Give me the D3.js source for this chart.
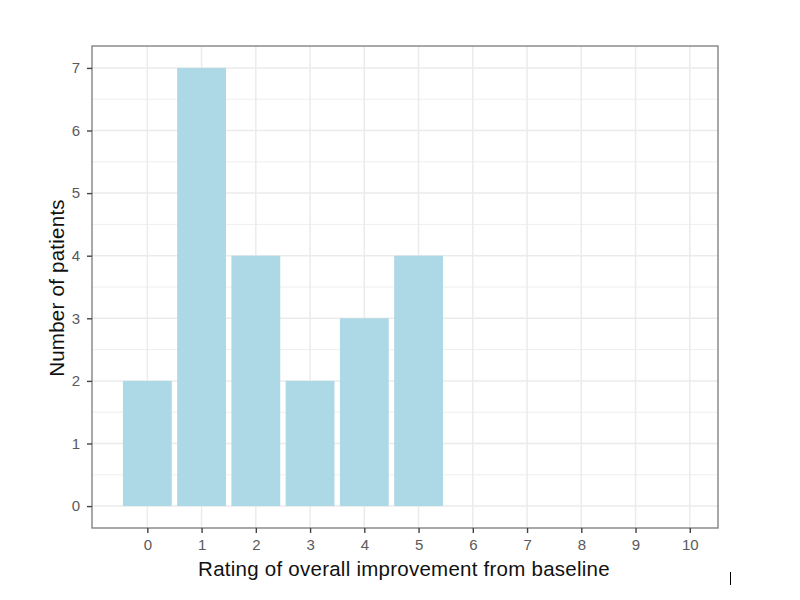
<!DOCTYPE html>
<html>
<head>
<meta charset="utf-8">
<script src="https://cdn.jsdelivr.net/npm/d3@7"></script>
<style>
  body { margin: 0; background: #fff; }
  text { font-family: "Liberation Sans", Arial, sans-serif; }
</style>
</head>
<body>
<svg id="chart" width="800" height="600"></svg>
<script>
// ratings on x, patient counts on y
const ratings = [0, 1, 2, 3, 4, 5];
const patients = [2, 7, 4, 2, 3, 4];
const xTicks = [0, 1, 2, 3, 4, 5, 6, 7, 8, 9, 10];
const yTicks = [0, 1, 2, 3, 4, 5, 6, 7];

const svg = d3.select("#chart");
const panel = {left: 92, top: 46, right: 718, bottom: 528};

const x = d3.scaleLinear().domain([-1.02, 10.52]).range([panel.left, panel.right]);
const y = d3.scaleLinear().domain([-0.35, 7.35]).range([panel.bottom, panel.top]);

/* grid: minor first, then major */
const yMinor = d3.range(-0.5, 7.6, 1);
svg.append("g").selectAll("line").data(yMinor.filter(d => y(d) > panel.top && y(d) < panel.bottom))
  .join("line")
    .attr("x1", panel.left).attr("x2", panel.right)
    .attr("y1", d => y(d)).attr("y2", d => y(d))
    .attr("stroke", "#ececec").attr("stroke-width", 0.9);
svg.append("g").selectAll("line").data(yTicks)
  .join("line")
    .attr("x1", panel.left).attr("x2", panel.right)
    .attr("y1", d => y(d)).attr("y2", d => y(d))
    .attr("stroke", "#ebebeb").attr("stroke-width", 1.5);
svg.append("g").selectAll("line").data(xTicks)
  .join("line")
    .attr("y1", panel.top).attr("y2", panel.bottom)
    .attr("x1", d => x(d)).attr("x2", d => x(d))
    .attr("stroke", "#ebebeb").attr("stroke-width", 1.5);

// bars
const bw = x(0.9) - x(0);
svg.append("g").selectAll("rect").data(ratings)
  .join("rect")
    .attr("x", (d) => x(d) - bw / 2)
    .attr("y", (d, i) => y(patients[i]))
    .attr("width", bw)
    .attr("height", (d, i) => y(0) - y(patients[i]))
    .attr("fill", "#add8e6");

// panel border
svg.append("rect")
  .attr("x", panel.left).attr("y", panel.top)
  .attr("width", panel.right - panel.left).attr("height", panel.bottom - panel.top)
  .attr("fill", "none").attr("stroke", "#7a7a7a").attr("stroke-width", 1.3);

// axes
const xAxis = svg.append("g")
  .attr("transform", `translate(0,${panel.bottom})`)
  .call(d3.axisBottom(x).tickValues(xTicks).tickSize(5).tickPadding(6).tickSizeOuter(0));
const yAxis = svg.append("g")
  .attr("transform", `translate(${panel.left},0)`)
  .call(d3.axisLeft(y).tickValues(yTicks).tickSize(5).tickPadding(7).tickSizeOuter(0));
[xAxis, yAxis].forEach(a => {
  a.select(".domain").remove();
  a.selectAll(".tick line").attr("stroke", "#444").attr("stroke-width", 1.4);
  a.selectAll(".tick text").attr("fill", "#5a5a5a").style("font-size", "15px");
});

// titles
svg.append("text")
  .attr("x", 404).attr("y", 576)
  .attr("text-anchor", "middle").attr("fill", "#111")
  .style("font-size", "20.5px").style("letter-spacing", "0.25px")
  .text("Rating of overall improvement from baseline");
svg.append("text")
  .attr("transform", `translate(64,288) rotate(-90)`)
  .attr("text-anchor", "middle").attr("fill", "#111")
  .style("font-size", "20.5px").style("letter-spacing", "0.25px")
  .text("Number of patients");

// stray cursor mark in the original
svg.append("line")
  .attr("x1", 730.5).attr("x2", 730.5).attr("y1", 572).attr("y2", 585)
  .attr("stroke", "#000").attr("stroke-width", 1);
</script>
</body>
</html>
